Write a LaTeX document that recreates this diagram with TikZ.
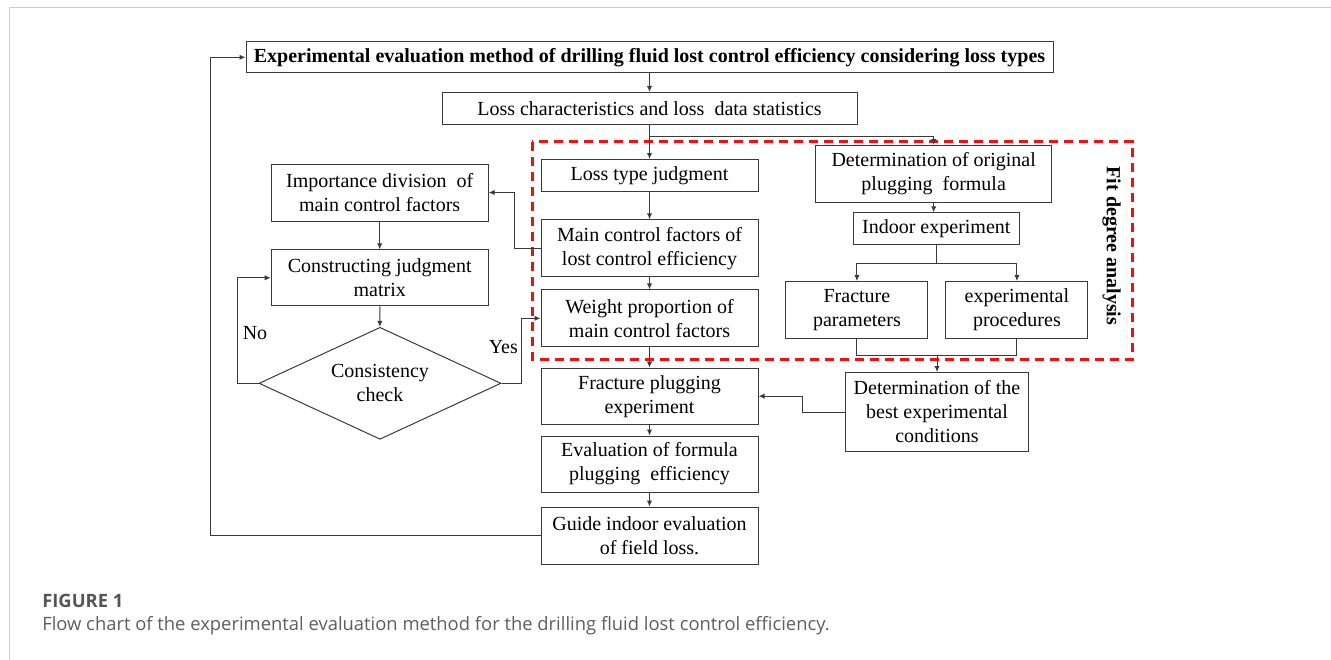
\documentclass[tikz,border=0pt]{standalone}
\usepackage{fontspec}
\setmainfont{Liberation Serif}
\newfontfamily\capfont{Open Sans}
\usetikzlibrary{arrows.meta,shapes.geometric}
\definecolor{lncol}{HTML}{3A3A3A}
\definecolor{framecol}{HTML}{CDCDCD}
\definecolor{capgray}{HTML}{555555}
\definecolor{capgrayb}{HTML}{5E5E5E}
\definecolor{dashred}{HTML}{F01010}
\begin{document}
\begin{tikzpicture}[x=0.75pt,y=-0.75pt,
  box/.style={draw=lncol, line width=0.75pt, inner sep=0pt, align=center, font=\fontsize{15}{18}\selectfont},
  sz/.style 2 args={minimum width=#1*0.75pt, minimum height=#2*0.75pt},
  conn/.style={draw=lncol, line width=0.75pt},
  arr/.style={conn, -{Latex[length=4.5pt,width=4pt]}},
  lbl/.style={inner sep=0pt, font=\fontsize{15}{18}\selectfont}]
\useasboundingbox (0,0) rectangle (1331,660);
\draw[framecol, line width=1.1pt] (9.3,660) -- (9.3,7.3) -- (1331,7.3);

% red dashed region
\draw[dashred, line width=2pt, dash pattern=on 6.75pt off 4.5pt] (532.3,141.7) rectangle (1132.5,359.2);

% boxes
\node[box, sz={807}{31}, font=\bfseries\fontsize{15}{18}\selectfont] (title) at (649.5,57.3) {Experimental evaluation method of drilling fluid lost control efficiency considering loss types};
\node[box, sz={415}{32}] (loss) at (649.5,108.5) {Loss characteristics and loss\ \ data statistics};
\node[box, sz={217}{32}] (ltype) at (649.5,175.5) {Loss type judgment};
\node[box, sz={217}{57}] (main) at (649.5,248.3) {Main control factors of\\lost control efficiency};
\node[box, sz={217}{57}] (weight) at (649.5,318.3) {Weight proportion of\\main control factors};
\node[box, sz={217}{56}] (frac) at (649.5,396.2) {Fracture plugging\\experiment};
\node[box, sz={217}{56}] (eval) at (649.5,464) {Evaluation of formula\\plugging\ \ efficiency};
\node[box, sz={217}{57}] (guide) at (649.5,535.6) {Guide indoor evaluation\\of field loss.};
\node[box, sz={236}{57}] (orig) at (933.7,174) {Determination of original\\plugging\ \ formula};
\node[box, sz={166}{32}] (indoor) at (936.3,228.8) {Indoor experiment};
\node[box, sz={142}{57}] (fpar) at (856.9,310) {Fracture\\parameters};
\node[box, sz={142}{57}] (eproc) at (1016.9,310) {experimental\\procedures};
\node[box, sz={183}{79}] (best) at (937,412) {Determination of the\\best experimental\\conditions};
\node[box, sz={217}{57}] (imp) at (379.7,192.5) {Importance division\ \ of\\main control factors};
\node[box, sz={217}{56}] (cons) at (379.7,277.8) {Constructing judgment\\matrix};
\node[box, diamond, aspect=2, sz={242}{112}] (chk) at (380,383.3) {Consistency\\check};

\node[lbl] (no) at (255,332.7) {No};
\node[lbl] (yes) at (503.3,346.7) {Yes};
\node[lbl, rotate=-90, font=\bfseries\fontsize{15}{18}\selectfont] (fit) at (1111.7,246) {Fit degree analysis};

% connectors
\draw[arr] (title.south) -- (loss.north);
\draw[arr] (loss.south) -- (ltype.north);
\draw[arr] (loss.south) -- ++(0,11.5) -| (orig.north);
\draw[arr] (ltype) -- (main);
\draw[arr] (main) -- (weight);
\draw[arr] (weight) -- (frac);
\draw[arr] (frac) -- (eval);
\draw[arr] (eval) -- (guide);
\draw[arr] (guide.west) -- ++(-330.5,0) |- (title.west);
\draw[arr] (orig.south) -- (orig.south |- indoor.north);
\draw[arr] (indoor.south) -- ++(0,18.5) -| (fpar.north);
\draw[arr] (indoor.south) -- ++(0,18.5) -| (eproc.north);
\draw[conn] (fpar.south) -- ++(0,16.7) -| (eproc.south);
\coordinate (join) at (937,355.2);
\draw[arr] (join) -- (best.north);
\draw[arr] (best.west) -- ++(-43,0) |- (frac.east);
\draw[arr] (main.west) -- ++(-26.5,0) |- (imp.east);
\draw[arr] (imp) -- (cons);
\draw[arr] (cons) -- (chk);
\draw[arr] (chk.west) -- ++(-20.7,0) |- (cons.west);
\draw[arr] (chk.east) -- ++(20,0) |- (weight.west);

% caption
\node[anchor=base west, inner sep=0pt, text=capgray, font=\capfont\bfseries\fontsize{13.8}{16}\selectfont] (figlab) at (42,607.5) {FIGURE 1};
\node[anchor=base west, inner sep=0pt, text=capgrayb, font=\capfont\fontsize{13.8}{16}\selectfont] (cap) at (42,630) {Flow chart of the experimental evaluation method for the drilling fluid lost control efficiency.};
\end{tikzpicture}
\end{document}
